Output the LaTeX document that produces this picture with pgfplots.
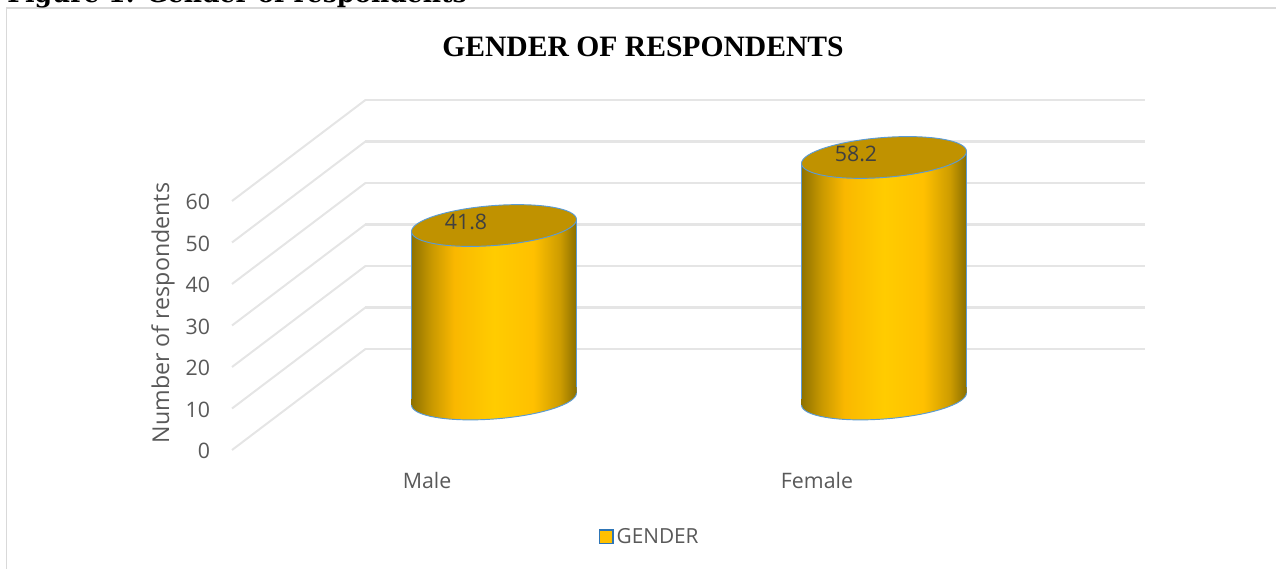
\documentclass[border=0pt]{standalone}
\usepackage{fontspec}
\usepackage{pgfplots}
\pgfplotsset{compat=1.18}
\setmainfont{Open Sans}
\newfontfamily\serifb{Liberation Serif}
\newfontfamily\figb{DejaVu Serif}
\definecolor{txt}{HTML}{595959}
\definecolor{gridc}{HTML}{E5E5E5}
\definecolor{edge}{HTML}{5B9BD5}
\definecolor{topc}{HTML}{C09200}
\definecolor{frm}{HTML}{D9D9D9}
\definecolor{legfill}{HTML}{FFC000}
\definecolor{legedge}{HTML}{2E75B6}
\pgfdeclarehorizontalshading{cylside}{100bp}{
 rgb(0bp)=(0.56,0.447,0);
 rgb(25bp)=(0.56,0.447,0);
 rgb(31bp)=(0.784,0.596,0);
 rgb(38bp)=(0.98,0.72,0);
 rgb(50bp)=(1,0.8,0);
 rgb(62bp)=(1,0.753,0);
 rgb(70bp)=(0.804,0.612,0);
 rgb(75bp)=(0.541,0.435,0);
 rgb(100bp)=(0.541,0.435,0)}
\def\lowerarc{%
 \pgfpathmoveto{\pgfpoint{-61.875pt}{-4.5pt}}%
 \pgfpathcurveto{\pgfpoint{-61.875pt}{-12.785pt}}{\pgfpoint{-34.17pt}{-17.485pt}}{\pgfpoint{0pt}{-15pt}}%
 \pgfpathcurveto{\pgfpoint{34.17pt}{-12.515pt}}{\pgfpoint{61.875pt}{-3.785pt}}{\pgfpoint{61.875pt}{4.5pt}}}
\pgfdeclareplotmark{cylbottom}{%
 \lowerarc
 \pgfpathlineto{\pgfpoint{61.875pt}{9pt}}%
 \pgfpathlineto{\pgfpoint{-61.875pt}{0pt}}%
 \pgfpathclose
 \pgfshadepath{cylside}{0}%
 \pgfusepath{discard}%
 \lowerarc
 \pgfusepath{stroke}}
\pgfdeclareplotmark{cyltop}{%
 \pgfpathellipse{\pgfpointorigin}{\pgfpoint{61.875pt}{4.5pt}}{\pgfpoint{0pt}{15pt}}%
 \pgfusepath{fill,stroke}}
\def\P#1#2{({#1*0.75pt},{(568-#2)*0.75pt})}
\begin{document}
\begin{tikzpicture}
\useasboundingbox \P{0}{568} rectangle \P{1276}{0};
\clip \P{0}{568} rectangle \P{1276}{0};
\draw[frm,line width=1.1pt] \P{6.5}{580} -- \P{6.5}{8} -- \P{1290}{8};
\node[anchor=base west,inner sep=0pt,font=\fontsize{18.8}{20}\selectfont\figb\bfseries] at \P{7}{3} {Figure 1: Gender of respondents};
\node[anchor=center,inner sep=0pt,font=\fontsize{22.2}{26}\selectfont\serifb\bfseries] at \P{643}{47} {GENDER OF RESPONDENTS};
\begin{axis}[
 at={(174pt,88.5pt)}, anchor=south west,
 scale only axis, width=585pt, height=186.75pt,
 xmin=-0.5, xmax=1.5, ymin=0, ymax=60, clip=false,
 xtick={0,1}, xticklabels={Male,Female},
 ytick={0,10,20,30,40,50,60},
 axis line style={draw=none}, major tick length=0pt,
 /pgf/number format/assume math mode=true,
 tick label style={text=txt,font=\fontsize{16}{18}\selectfont},
 yticklabel style={anchor=east,xshift=-13pt,yshift=-0.7pt},
 xticklabel style={anchor=center,yshift=-22.5pt},
 ylabel={Number of respondents},
 every axis y label/.style={at={(rel axis cs:-0.0885,0.55)},rotate=90,anchor=center,text=txt,font=\fontsize{17.4}{20}\selectfont},
 legend style={at={(rel axis cs:0.536,-0.349)},anchor=center,draw=none,fill=none,font=\fontsize{15.6}{18}\selectfont,text=txt,inner sep=0pt},
 legend cell align=left,
 legend image code/.code={\draw[draw=legedge,fill=legfill,line width=1.1pt] (-1.5pt,-5.1pt) rectangle (8.7pt,5.1pt);},
]
% legend entry
\addplot[draw=none] coordinates {(0,0)};
\addlegendentry{GENDER}
% side walls
\pgfplotsset{sideline/.style={gridc,line width=1.5pt,forget plot},wall/.style={gridc,line width=2pt,forget plot,xshift=100.1pt,yshift=75.75pt}}
\addplot[sideline] coordinates {(-0.5,0)(-0.157,24.4)};
\addplot[sideline] coordinates {(-0.5,10)(-0.157,34.4)};
\addplot[sideline] coordinates {(-0.5,20)(-0.157,44.4)};
\addplot[sideline] coordinates {(-0.5,30)(-0.157,54.4)};
\addplot[sideline] coordinates {(-0.5,40)(-0.157,64.4)};
\addplot[sideline] coordinates {(-0.5,50)(-0.157,74.4)};
\addplot[sideline] coordinates {(-0.5,60)(-0.157,84.4)};
% back wall
\addplot[wall] coordinates {(-0.5,0)(1.5,0)};
\addplot[wall] coordinates {(-0.5,10)(1.5,10)};
\addplot[wall] coordinates {(-0.5,20)(1.5,20)};
\addplot[wall] coordinates {(-0.5,30)(1.5,30)};
\addplot[wall] coordinates {(-0.5,40)(1.5,40)};
\addplot[wall] coordinates {(-0.5,50)(1.5,50)};
\addplot[wall] coordinates {(-0.5,60)(1.5,60)};
% cylinders, on the mid plane
\pgfplotsset{mid/.style={forget plot,xshift=50.25pt,yshift=38.25pt}}
\addplot[mid,shade,shading=cylside,draw=none] coordinates {(-0.2115,-1.45)(-0.2115,40.35)(0.2115,43.25)(0.2115,1.45)} --cycle;
\addplot[mid,shade,shading=cylside,draw=none] coordinates {(0.7885,-1.45)(0.7885,56.75)(1.2115,59.65)(1.2115,1.45)} --cycle;
\addplot[mid,edge,line width=0.7pt] coordinates {(-0.2115,-1.45)(-0.2115,40.35)};
\addplot[mid,edge,line width=0.7pt] coordinates {(0.2115,1.45)(0.2115,43.25)};
\addplot[mid,edge,line width=0.7pt] coordinates {(0.7885,-1.45)(0.7885,56.75)};
\addplot[mid,edge,line width=0.7pt] coordinates {(1.2115,1.45)(1.2115,59.65)};
\addplot[mid,only marks,mark=cylbottom,mark options={draw=edge,line width=0.7pt}] coordinates {(0,0)(1,0)};
\addplot[mid,only marks,mark=cyltop,mark options={draw=edge,fill=topc,line width=0.7pt},
 nodes near coords,point meta=explicit symbolic,
 nodes near coords style={anchor=center,xshift=-21pt,yshift=2.5pt,text=black!75,font=\fontsize{16}{18}\selectfont}]
 coordinates {(0,41.8)[41.8] (1,58.2)[58.2]};
\end{axis}
\end{tikzpicture}
\end{document}
